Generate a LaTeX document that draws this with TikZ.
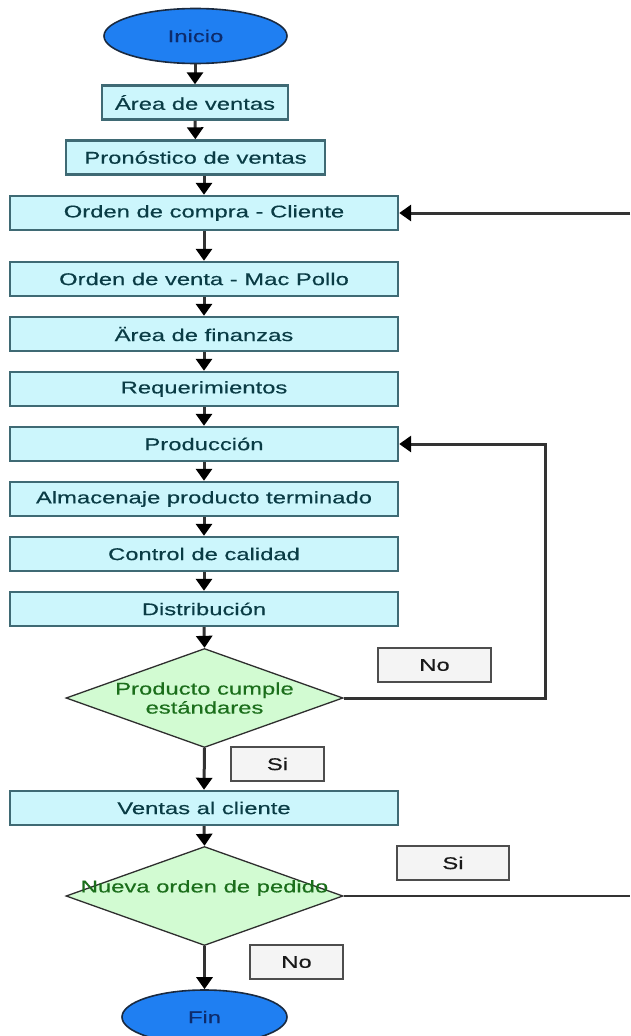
\documentclass[tikz,border=0pt]{standalone}
\usepackage{fontspec}
\setmainfont{Liberation Sans}[FakeStretch=1.4,FakeBold=0.4]
\usetikzlibrary{shapes.geometric,arrows.meta}
\definecolor{termfill}{HTML}{1F7FF2}
\definecolor{termline}{HTML}{1A2A40}
\definecolor{termtext}{HTML}{0D2B6B}
\definecolor{boxfill}{HTML}{CCF6FC}
\definecolor{boxline}{HTML}{3F6A74}
\definecolor{boxtext}{HTML}{0A3C45}
\definecolor{decfill}{HTML}{D2FBD2}
\definecolor{decline}{HTML}{2E2E2E}
\definecolor{dectext}{HTML}{1B6E1B}
\definecolor{labfill}{HTML}{F4F4F4}
\definecolor{labline}{HTML}{4D4D4D}
\definecolor{linec}{HTML}{333333}
\begin{document}
\begin{tikzpicture}[x=1pt,y=-1pt,
  every node/.style={font=\fontsize{17}{19}\selectfont, inner sep=0pt},
  term/.style={ellipse, draw=termline, fill=termfill, text=termtext, line width=1.6pt},
  proc/.style={rectangle, draw=boxline, fill=boxfill, text=boxtext, line width=2.4pt, minimum height=34pt},
  decision/.style={diamond, draw=decline, fill=decfill, line width=1.3pt, minimum width=277pt, minimum height=99pt},
  dtext/.style={text=dectext, align=center},
  lab/.style={rectangle, draw=labline, fill=labfill, text=black!90, line width=2.4pt, minimum height=34pt},
  arr/.style={draw=linec, line width=3pt, -{Triangle[width=16pt,length=12pt,color=black]}},
  plain/.style={draw=linec, line width=2.4pt}
]
\fill[white] (0,0) rectangle (630,1036);
\useasboundingbox (0,0) rectangle (630,1036);
\clip (0,0) rectangle (630,1036);

\node[term, minimum width=183pt, minimum height=55pt] (inicio) at (195.5,36) {Inicio};
\node[proc, minimum width=186pt] (area) at (195,102.5) {Área de ventas};
\node[proc, minimum width=259pt] (pron) at (195.5,157.5) {Pronóstico de ventas};
\node[proc, minimum width=388pt] (orden) at (204,213) {Orden de compra - Cliente};
\node[proc, minimum width=388pt] (venta) at (204,279) {Orden de venta - Mac Pollo};
\node[proc, minimum width=388pt] (fin1) at (204,334) {Ärea de finanzas};
\node[proc, minimum width=388pt] (req) at (204,389) {Requerimientos};
\node[proc, minimum width=388pt] (prod) at (204,444) {Producción};
\node[proc, minimum width=388pt] (alm) at (204,499) {Almacenaje producto terminado};
\node[proc, minimum width=388pt] (ctrl) at (204,554) {Control de calidad};
\node[proc, minimum width=388pt] (dist) at (204,609) {Distribución};
\node[decision] (d1) at (204.5,698) {};
\node[dtext] (d1t) at (204.5,698) {Producto cumple\\estándares};
\node[proc, minimum width=388pt] (vent) at (204,808) {Ventas al cliente};
\node[decision] (d2) at (204.5,896) {};
\node[dtext] (d2t) at (204.5,888) {Nueva orden de pedido};
\node[term, minimum width=165pt, minimum height=54pt] (fin) at (204.5,1017) {Fin};

\node[lab, minimum width=113pt] (no1) at (434.5,665) {No};
\node[lab, minimum width=93pt] (si1) at (277.5,764) {Si};
\node[lab, minimum width=112pt] (si2) at (453,863) {Si};
\node[lab, minimum width=93pt] (no2) at (296.5,962) {No};

\coordinate (inR) at (630,213);
\coordinate (loopc) at (545,698);
\coordinate (outR) at (630,896);

\draw[arr] (inicio.south -| area.north) -- (area.north);
\draw[arr] (area) -- (pron);
\draw[arr] (orden.north |- pron.south) -- (orden.north);
\draw[arr] (inR) -- (orden.east);
\draw[arr] (orden) -- (venta);
\draw[arr] (venta) -- (fin1);
\draw[arr] (fin1) -- (req);
\draw[arr] (req) -- (prod);
\draw[arr] (prod) -- (alm);
\draw[arr] (alm) -- (ctrl);
\draw[arr] (ctrl) -- (dist);
\draw[arr] (dist.south) -- (d1.north);
\draw[arr] (d1.east) -- (loopc) |- (prod.east);
\draw[arr] (d1.south) -- (vent.north);
\draw[arr] (vent.south) -- (d2.north);
\draw[plain] (d2.east) -- (outR);
\draw[arr] (d2.south) -- (fin.north);
\end{tikzpicture}
\end{document}
